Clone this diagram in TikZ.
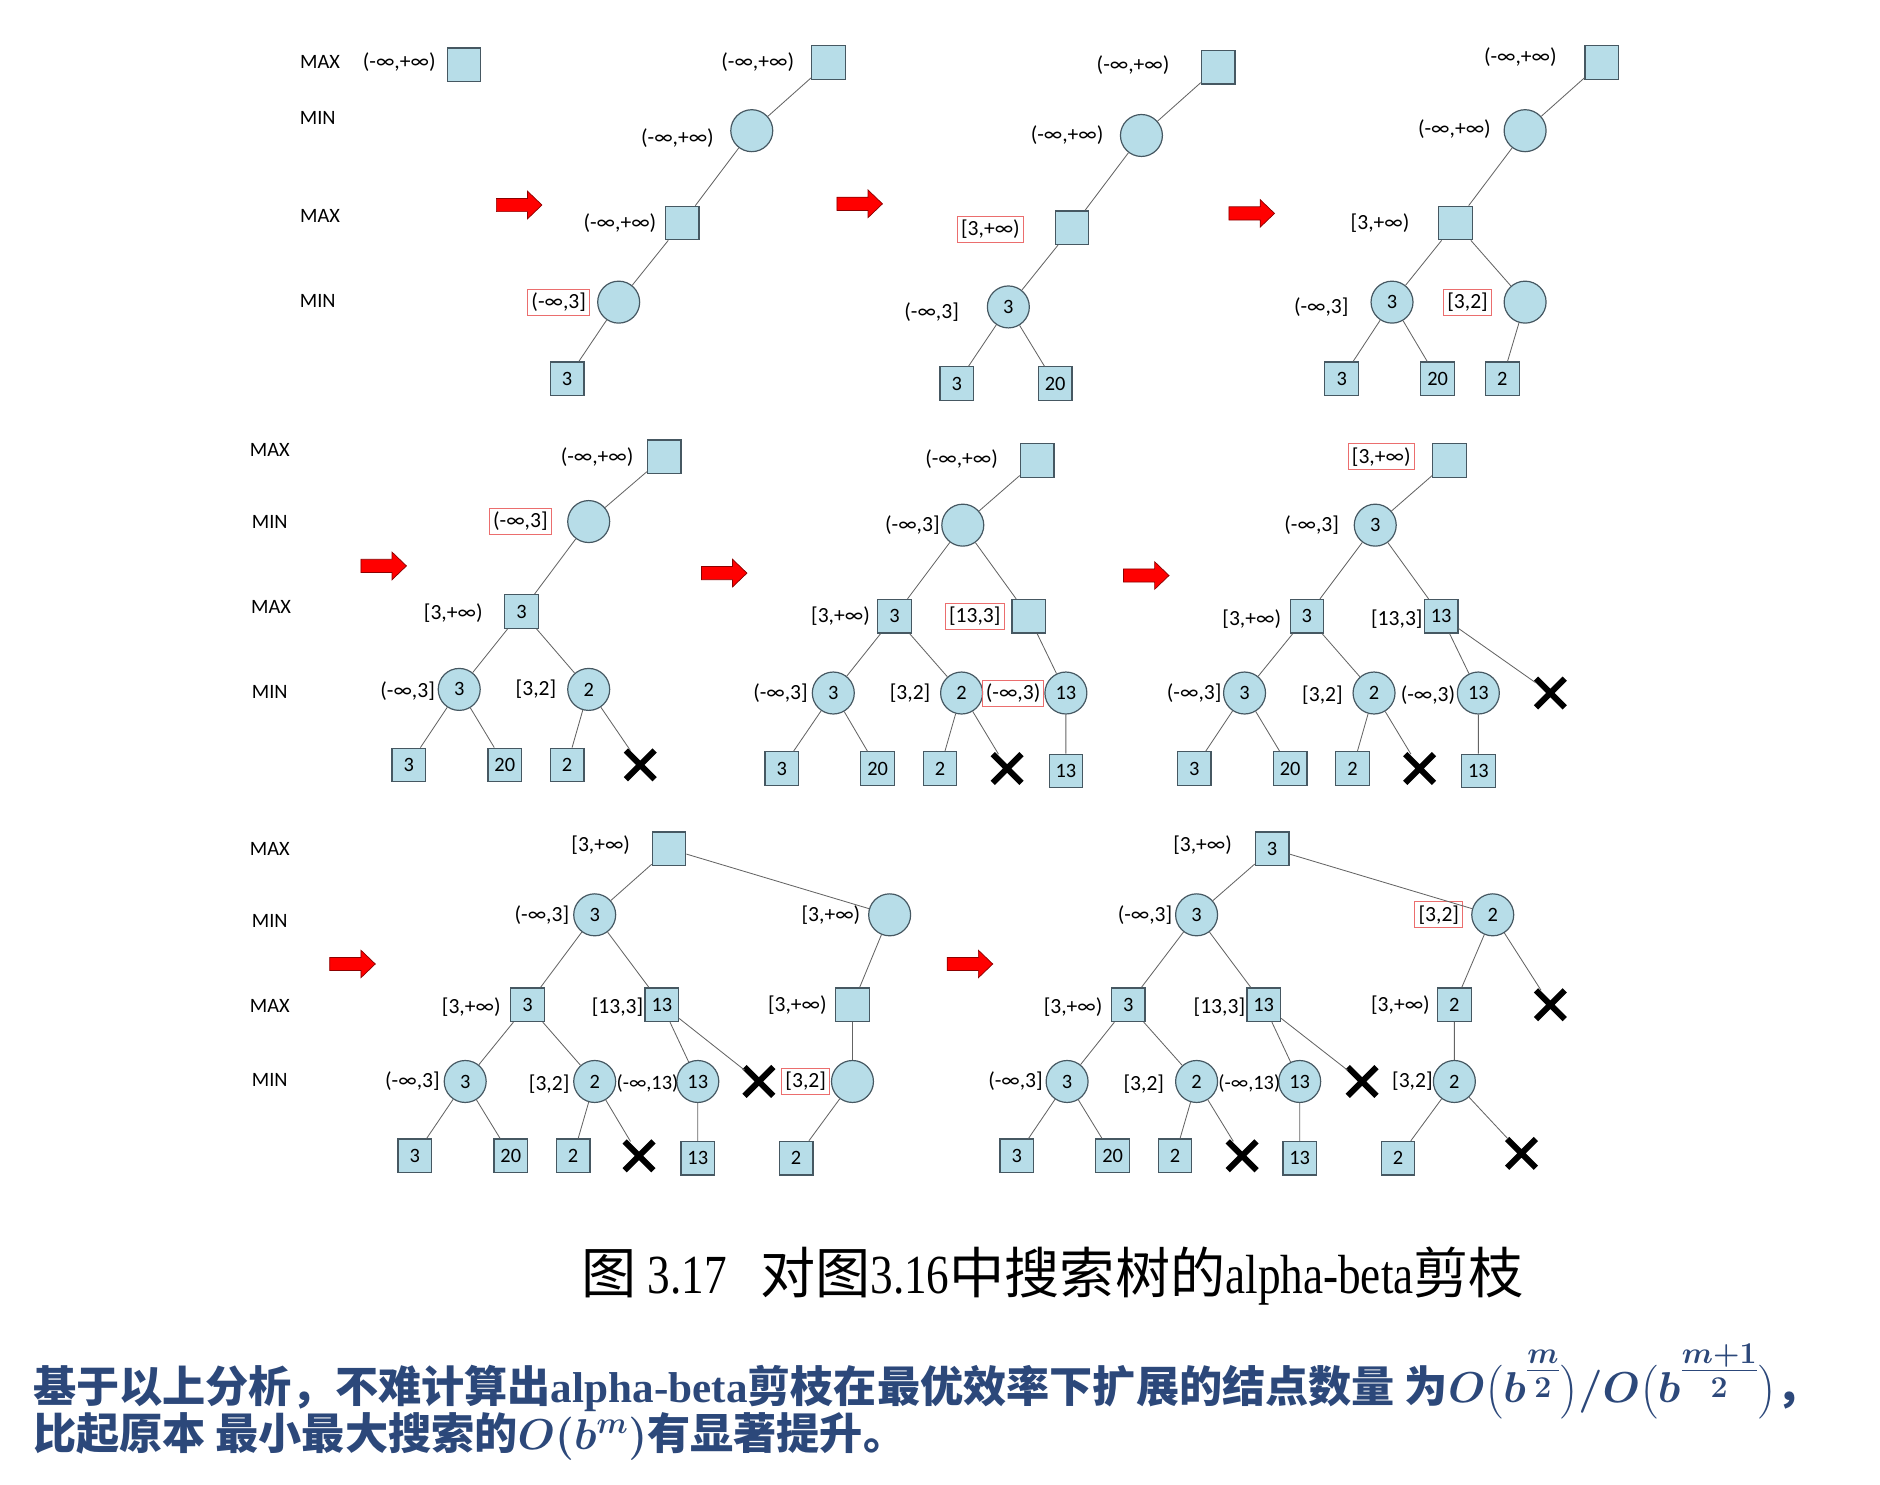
\RequirePackage{fix-cm}
\documentclass[tikz,border=0pt]{standalone}
\usepackage{fontspec}
\usepackage{amsmath,bm}
\usetikzlibrary{shapes.misc}
\setmainfont{Carlito}
\newfontfamily\hei{Noto Sans CJK SC}
\newfontfamily\capserif[FakeStretch=0.82]{Liberation Serif}
\newfontfamily\remserif{Liberation Serif}
\definecolor{nodeblue}{RGB}{183,221,232}
\definecolor{nodeline}{RGB}{70,88,98}
\definecolor{edgegray}{RGB}{100,100,100}
\definecolor{boxred}{RGB}{235,110,110}
\definecolor{textblue}{RGB}{44,72,122}

\begin{document}
\begin{tikzpicture}[x=1pt,y=-1pt]
	\tikzset{
		maxnode/.style={rectangle,draw=nodeline,fill=nodeblue,line width=1pt,minimum size=28pt,inner sep=0pt,font=\fontsize{17}{17}\selectfont},
		minnode/.style={circle,draw=nodeline,fill=nodeblue,line width=1pt,minimum size=35pt,inner sep=0pt,font=\fontsize{17}{17}\selectfont},
		bound/.style={inner sep=1pt,font=\fontsize{18}{18}\selectfont},
		redbound/.style={bound,draw=boxred,line width=0.8pt,inner sep=3pt},
		level/.style={font=\fontsize{17}{17}\selectfont},
		cutmark/.style={cross out,draw=black,line width=5pt,minimum size=19pt,inner sep=0pt},
		branch/.style={draw=edgegray,line width=0.7pt},
		redarrow/.pic={\path[fill=red,draw=red!55!black,line width=0.6pt] (-19,-5.5) -- (7,-5.5) -- (7,-11.5) -- (19,0) -- (7,11.5) -- (7,5.5) -- (-19,5.5) -- cycle;}
	}
	\useasboundingbox (0,0) rectangle (1568,1238);
	
	% row 1
	\node[level] (lmaxa) at (267,52) {MAX};
	\node[level] (lmina) at (265,98) {MIN};
	\node[level] (lmaxb) at (267,180) {MAX};
	\node[level] (lminb) at (265,251) {MIN};
	
	\node[maxnode] (s0) at (387,54) {};
	\node[bound] (s0b) at (333,52) {(-∞,+∞)};
	
	\pic at (433,171) {redarrow};
	\node[maxnode] (a0) at (691,52) {};
	\node[bound] (a0b) at (632,52) {(-∞,+∞)};
	\node[minnode] (a1) at (627,109) {};
	\node[bound] (a1b) at (565,115) {(-∞,+∞)};
	\node[maxnode] (a2) at (569,186) {};
	\node[bound] (a2b) at (517,186) {(-∞,+∞)};
	\node[minnode] (a3) at (516,252) {};
	\node[redbound] (a3b) at (466,252) {(-∞,3]};
	\node[maxnode] (a4) at (473,316) {3};
	\draw[branch] (a0) -- (a1) -- (a2) -- (a3) -- (a4);
	
	\pic at (717,170) {redarrow};
	\node[maxnode] (b0) at (1016,56) {};
	\node[bound] (b0b) at (945,54) {(-∞,+∞)};
	\node[minnode] (b1) at (952,113) {};
	\node[bound] (b1b) at (890,113) {(-∞,+∞)};
	\node[maxnode] (b2) at (894,190) {};
	\node[redbound] (b2b) at (826,191) {[3,+∞)};
	\node[minnode] (b3) at (841,256) {3};
	\node[bound] (b3b) at (777,260) {(-∞,3]};
	\node[maxnode] (b4) at (798,320) {3};
	\node[maxnode] (b5) at (880,320) {20};
	\draw[branch] (b0) -- (b1) -- (b2) -- (b3) -- (b4);
	\draw[branch] (b3) -- (b5);
	
	\pic at (1044,178) {redarrow};
	\node[maxnode] (c0) at (1336,52) {};
	\node[bound] (c0b) at (1268,48) {(-∞,+∞)};
	\node[minnode] (c1) at (1272,109) {};
	\node[bound] (c1b) at (1213,108) {(-∞,+∞)};
	\node[maxnode] (c2) at (1214,186) {};
	\node[bound] (c2b) at (1151,186) {[3,+∞)};
	\node[minnode] (c3) at (1161,252) {3};
	\node[bound] (c3b) at (1102,256) {(-∞,3]};
	\node[minnode] (c4) at (1272,252) {};
	\node[redbound] (c4b) at (1224,252) {[3,2]};
	\node[maxnode] (c5) at (1119,316) {3};
	\node[maxnode] (c6) at (1199,316) {20};
	\node[maxnode] (c7) at (1253,316) {2};
	\draw[branch] (c0) -- (c1) -- (c2) -- (c3) -- (c5);
	\draw[branch] (c3) -- (c6);
	\draw[branch] (c2) -- (c4) -- (c7);
	
	% row 2
	\node[level] (lmaxc) at (225,375) {MAX};
	\node[level] (lminc) at (225,435) {MIN};
	\node[level] (lmaxd) at (226,506) {MAX};
	\node[level] (lmind) at (225,577) {MIN};
	
	\pic at (320,472) {redarrow};
	\node[maxnode] (d0) at (554,381) {};
	\node[bound] (d0b) at (498,381) {(-∞,+∞)};
	\node[minnode] (d1) at (491,435) {};
	\node[redbound] (d1b) at (434,435) {(-∞,3]};
	\node[maxnode] (d2) at (435,510) {3};
	\node[bound] (d2b) at (378,511) {[3,+∞)};
	\node[minnode] (d3) at (383,575) {3};
	\node[bound] (d3b) at (340,576) {(-∞,3]};
	\node[minnode] (d4) at (491,575) {2};
	\node[bound] (d4b) at (447,575) {[3,2]};
	\node[maxnode] (d5) at (341,638) {3};
	\node[maxnode] (d6) at (421,638) {20};
	\node[maxnode] (d7) at (473,638) {2};
	\node[cutmark] (dx) at (534,638) {};
	\draw[branch] (d0) -- (d1) -- (d2) -- (d3) -- (d5);
	\draw[branch] (d3) -- (d6);
	\draw[branch] (d2) -- (d4) -- (d7);
	\draw[branch] (d4) -- (dx);
	
	\pic at (604,478) {redarrow};
	\node[maxnode] (e0) at (865,384) {};
	\node[bound] (e0b) at (802,383) {(-∞,+∞)};
	\node[minnode] (e1) at (803,438) {};
	\node[bound] (e1b) at (761,438) {(-∞,3]};
	\node[maxnode] (e2) at (746,514) {3};
	\node[bound] (e2b) at (701,514) {[3,+∞)};
	\node[maxnode] (e3) at (858,514) {};
	\node[redbound] (e3b) at (813,514) {[13,3]};
	\node[minnode] (e4) at (695,578) {3};
	\node[bound] (e4b) at (651,578) {(-∞,3]};
	\node[minnode] (e5) at (802,578) {2};
	\node[bound] (e5b) at (759,578) {[3,2]};
	\node[minnode] (e6) at (889,578) {13};
	\node[redbound] (e6b) at (845,578) {(-∞,3)};
	\node[maxnode] (e7) at (652,641) {3};
	\node[maxnode] (e8) at (732,641) {20};
	\node[maxnode] (e9) at (784,641) {2};
	\node[cutmark] (ex) at (840,641) {};
	\node[maxnode] (e10) at (889,643) {13};
	\draw[branch] (e0) -- (e1) -- (e2) -- (e4) -- (e7);
	\draw[branch] (e4) -- (e8);
	\draw[branch] (e2) -- (e5) -- (e9);
	\draw[branch] (e5) -- (ex);
	\draw[branch] (e1) -- (e3) -- (e6) -- (e10);
	
	\pic at (956,480) {redarrow};
	\node[maxnode] (f0) at (1209,384) {};
	\node[redbound] (f0b) at (1152,381) {[3,+∞)};
	\node[minnode] (f1) at (1147,438) {3};
	\node[bound] (f1b) at (1094,438) {(-∞,3]};
	\node[maxnode] (f2) at (1090,514) {3};
	\node[bound] (f2b) at (1044,516) {[3,+∞)};
	\node[maxnode] (f3) at (1202,514) {13};
	\node[bound] (f3b) at (1165,516) {[13,3]};
	\node[minnode] (f4) at (1038,578) {3};
	\node[bound] (f4b) at (996,578) {(-∞,3]};
	\node[minnode] (f5) at (1146,578) {2};
	\node[bound] (f5b) at (1103,580) {[3,2]};
	\node[minnode] (f6) at (1233,578) {13};
	\node[bound] (f6b) at (1191,580) {(-∞,3)};
	\node[cutmark] (fxa) at (1293,578) {};
	\node[maxnode] (f7) at (996,641) {3};
	\node[maxnode] (f8) at (1076,641) {20};
	\node[maxnode] (f9) at (1128,641) {2};
	\node[cutmark] (fxb) at (1184,641) {};
	\node[maxnode] (f10) at (1233,643) {13};
	\draw[branch] (f0) -- (f1) -- (f2) -- (f4) -- (f7);
	\draw[branch] (f4) -- (f8);
	\draw[branch] (f2) -- (f5) -- (f9);
	\draw[branch] (f5) -- (fxb);
	\draw[branch] (f1) -- (f3) -- (f6) -- (f10);
	\draw[branch] (f3) -- (fxa);
	
	% row 3
	\node[level] (lmaxe) at (225,708) {MAX};
	\node[level] (lmine) at (225,768) {MIN};
	\node[level] (lmaxf) at (225,839) {MAX};
	\node[level] (lminf) at (225,901) {MIN};
	
	\pic at (294,804) {redarrow};
	\node[maxnode] (g0) at (558,708) {};
	\node[bound] (g0b) at (501,705) {[3,+∞)};
	\node[minnode] (g1) at (496,763) {3};
	\node[bound] (g1b) at (452,763) {(-∞,3]};
	\node[minnode] (g2) at (742,763) {};
	\node[bound] (g2b) at (693,763) {[3,+∞)};
	\node[maxnode] (g3) at (440,838) {3};
	\node[bound] (g3b) at (393,840) {[3,+∞)};
	\node[maxnode] (g4) at (552,838) {13};
	\node[bound] (g4b) at (515,840) {[13,3]};
	\node[maxnode] (g5) at (711,838) {};
	\node[bound] (g5b) at (665,838) {[3,+∞)};
	\node[minnode] (g6) at (388,902) {3};
	\node[bound] (g6b) at (344,902) {(-∞,3]};
	\node[minnode] (g7) at (496,902) {2};
	\node[bound] (g7b) at (458,904) {[3,2]};
	\node[minnode] (g8) at (582,902) {13};
	\node[bound,font=\fontsize{17}{17}\selectfont] (g8b) at (540,904) {(-∞,13)};
	\node[cutmark] (gxa) at (633,902) {};
	\node[minnode] (g9) at (711,902) {};
	\node[redbound] (g9b) at (672,902) {[3,2]};
	\node[maxnode] (g10) at (346,964) {3};
	\node[maxnode] (g11) at (426,964) {20};
	\node[maxnode] (g12) at (478,964) {2};
	\node[cutmark] (gxb) at (533,964) {};
	\node[maxnode] (g13) at (582,966) {13};
	\node[maxnode] (g14) at (664,966) {2};
	\draw[branch] (g0) -- (g1) -- (g3) -- (g6) -- (g10);
	\draw[branch] (g6) -- (g11);
	\draw[branch] (g3) -- (g7) -- (g12);
	\draw[branch] (g7) -- (gxb);
	\draw[branch] (g1) -- (g4) -- (g8) -- (g13);
	\draw[branch] (g4) -- (gxa);
	\draw[branch] (g0) -- (g2) -- (g5) -- (g9) -- (g14);
	
	\pic at (809,804) {redarrow};
	\node[maxnode] (h0) at (1061,708) {3};
	\node[bound] (h0b) at (1003,705) {[3,+∞)};
	\node[minnode] (h1) at (998,763) {3};
	\node[bound] (h1b) at (955,763) {(-∞,3]};
	\node[minnode] (h2) at (1245,763) {2};
	\node[redbound] (h2b) at (1200,763) {[3,2]};
	\node[maxnode] (h3) at (941,838) {3};
	\node[bound] (h3b) at (895,840) {[3,+∞)};
	\node[maxnode] (h4) at (1054,838) {13};
	\node[bound] (h4b) at (1017,840) {[13,3]};
	\node[maxnode] (h5) at (1213,838) {2};
	\node[bound] (h5b) at (1168,838) {[3,+∞)};
	\node[cutmark] (hxa) at (1293,838) {};
	\node[minnode] (h6) at (890,902) {3};
	\node[bound] (h6b) at (847,902) {(-∞,3]};
	\node[minnode] (h7) at (998,902) {2};
	\node[bound] (h7b) at (954,904) {[3,2]};
	\node[minnode] (h8) at (1084,902) {13};
	\node[bound,font=\fontsize{17}{17}\selectfont] (h8b) at (1042,904) {(-∞,13)};
	\node[cutmark] (hxb) at (1136,902) {};
	\node[minnode] (h9) at (1213,902) {2};
	\node[bound] (h9b) at (1178,902) {[3,2]};
	\node[maxnode] (h10) at (848,964) {3};
	\node[maxnode] (h11) at (928,964) {20};
	\node[maxnode] (h12) at (980,964) {2};
	\node[cutmark] (hxc) at (1036,964) {};
	\node[maxnode] (h13) at (1084,966) {13};
	\node[maxnode] (h14) at (1166,966) {2};
	\node[cutmark] (hxd) at (1269,962) {};
	\draw[branch] (h0) -- (h1) -- (h3) -- (h6) -- (h10);
	\draw[branch] (h6) -- (h11);
	\draw[branch] (h3) -- (h7) -- (h12);
	\draw[branch] (h7) -- (hxc);
	\draw[branch] (h1) -- (h4) -- (h8) -- (h13);
	\draw[branch] (h4) -- (hxb);
	\draw[branch] (h0) -- (h2) -- (h5) -- (h9) -- (h14);
	\draw[branch] (h2) -- (hxa);
	\draw[branch] (h9) -- (hxd);
	
	% caption and remark
	\node[font=\capserif\fontsize{46}{46}\selectfont] (caption) at (878,1064)
		{{\hei 图}\ 3.17\hspace{0.6em}{\hei 对图}3.16{\hei 中搜索树的}alpha-beta{\hei 剪枝}};
	\node[anchor=west,text=textblue,font=\hei\bfseries\fontsize{36}{36}\selectfont] (remarka) at (24,1152)
		{基于以上分析，不难计算出{\remserif\bfseries alpha-beta}剪枝在最优效率下扩展的结点数量 为{\boldmath$O\big(b^{\textstyle\frac{m}{2}}\big)/O\big(b^{\textstyle\frac{m+1}{2}}\big)$}，};
	\node[anchor=west,text=textblue,font=\hei\bfseries\fontsize{36}{36}\selectfont] (remarkb) at (24,1198)
		{比起原本 最小最大搜索的{\boldmath$O(b^{m})$}有显著提升。};
	
\end{tikzpicture}
\end{document}
